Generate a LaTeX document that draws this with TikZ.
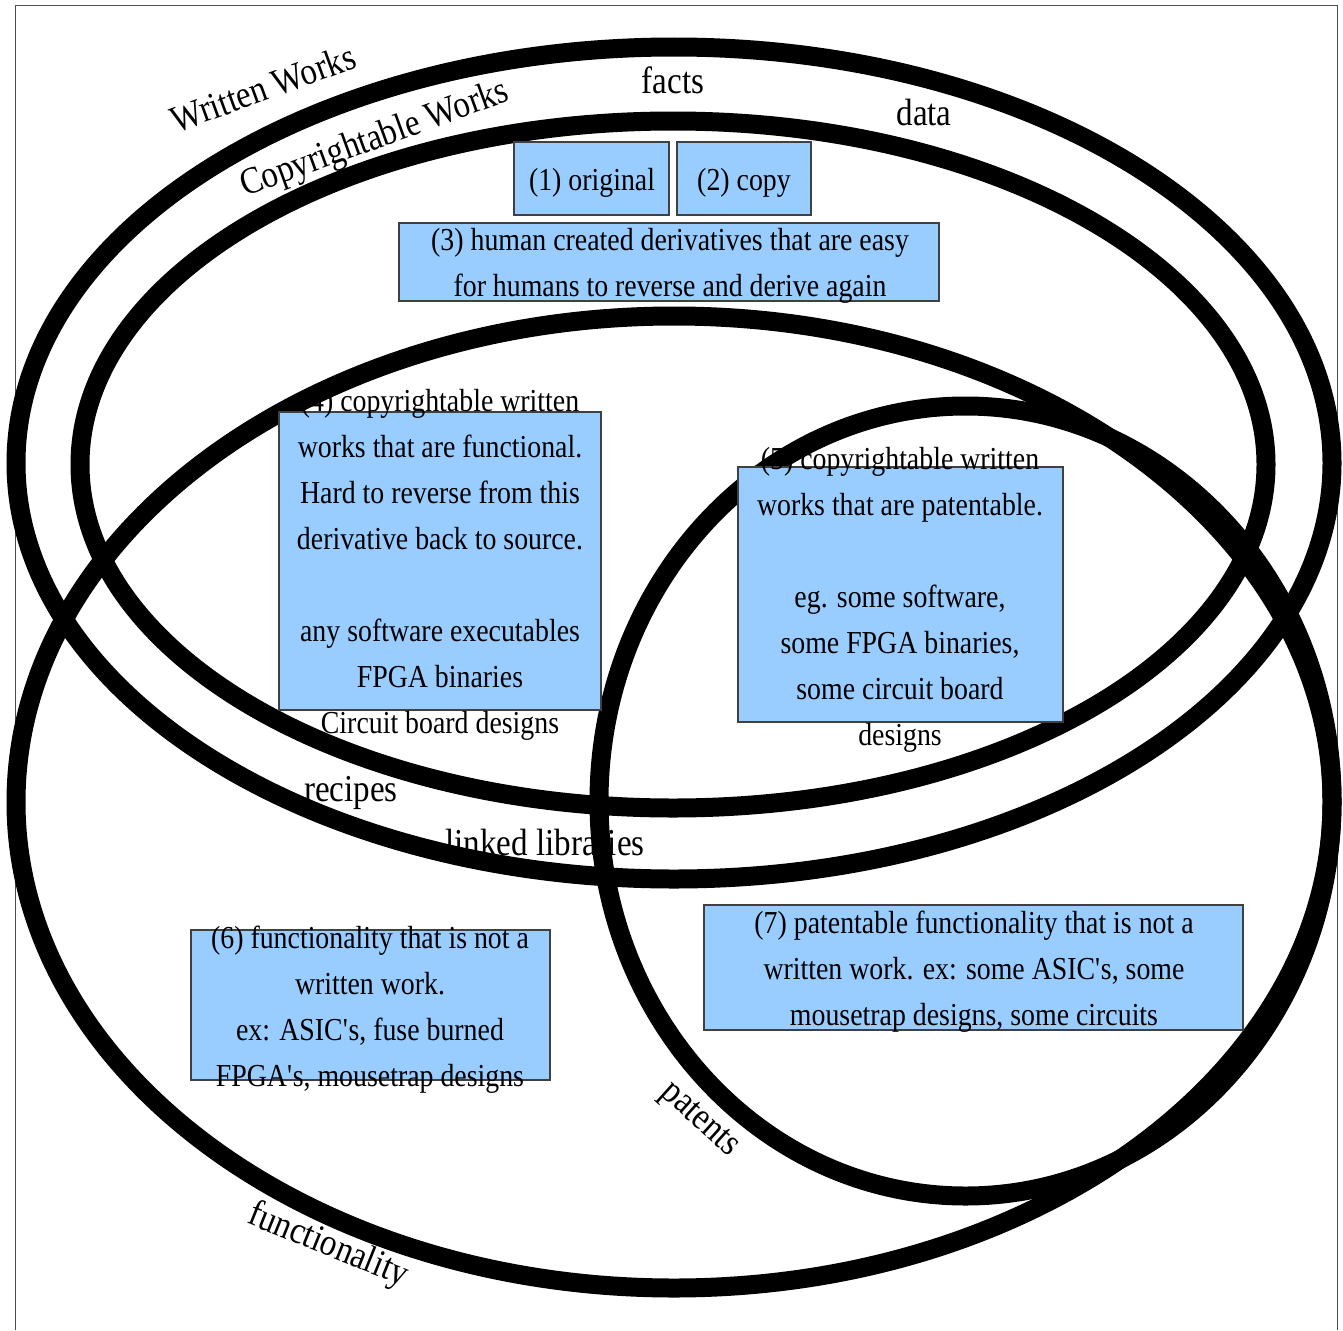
\documentclass[tikz,border=0pt]{standalone}
\usepackage{fontspec}
\setmainfont{Liberation Serif}[FakeStretch=0.87]
\definecolor{boxblue}{RGB}{153,204,255}
\newcommand{\apos}{\textquotesingle}
\begin{document}
\begin{tikzpicture}[x=1pt,y=-1pt,
  ring/.style={line width=19pt, draw=black},
  panel/.style={draw=black!75, line width=1.2pt, fill=boxblue, inner sep=0pt},
  paneltext/.style={align=center, font=\fontsize{32}{46}\selectfont, inner sep=0pt},
  tag/.style={font=\fontsize{38}{44}\selectfont, inner sep=0pt}]
\useasboundingbox (0,0) rectangle (1343,1330);

% page frame
\draw[black!70, line width=1pt] (15,1330) -- (15,6) -- (1337,6) -- (1337,1330);

% the four sets
\draw[ring] (674,463) ellipse [x radius=658pt, y radius=416pt];     % written works
\draw[ring] (673,464.5) ellipse [x radius=593pt, y radius=343.5pt]; % copyrightable works
\draw[ring] (674,802) ellipse [x radius=658pt, y radius=486pt];     % functionality
\draw[ring] (965.5,801) ellipse [x radius=366.5pt, y radius=395pt]; % patents

% category boxes
\node[panel, minimum width=155pt, minimum height=73pt] (orig) at (591.5,178.5) {};
\node[panel, minimum width=134pt, minimum height=73pt] (copy) at (744,178.5) {};
\node[panel, minimum width=540pt, minimum height=78pt] (deriv) at (669,262) {};
\node[panel, minimum width=322pt, minimum height=298pt] (func) at (440,561) {};
\node[panel, minimum width=325pt, minimum height=255pt] (patw) at (900.5,594.5) {};
\node[panel, minimum width=359pt, minimum height=150pt] (nonw) at (370.5,1005) {};
\node[panel, minimum width=539pt, minimum height=125pt] (patf) at (973.5,967.5) {};

% box texts
\node[paneltext] (origtxt) at (592,183) {(1) original};
\node[paneltext] (copytxt) at (744,183) {(2) copy};
\node[paneltext] (derivtxt) at (670,266) {(3) human created derivatives that are easy\\for humans to reverse and derive again};
\node[paneltext] (functxt) at (440,565) {(4) copyrightable written\\works that are functional.\\Hard to reverse from this\\derivative back to source.\\[46pt]any software executables\\FPGA binaries\\Circuit board designs};
\node[paneltext] (patwtxt) at (900,599.5) {(5) copyrightable written\\works that are patentable.\\[46pt]eg. some software,\\some FPGA binaries,\\some circuit board\\designs};
\node[paneltext] (nonwtxt) at (370,1009.5) {(6) functionality that is not a\\written work.\\ex: ASIC\apos s, fuse burned\\FPGA\apos s, mousetrap designs};
\node[paneltext] (patftxt) at (974,971.5) {(7) patentable functionality that is not a\\written work. ex: some ASIC\apos s, some\\mousetrap designs, some circuits};

% set names and loose examples
\node[tag] (facts) at (673,80) {facts};
\node[tag] (data) at (924,113) {data};
\node[tag, rotate=20] (written) at (263,88) {Written Works};
\node[tag, rotate=20] (copyright) at (375,140) {Copyrightable Works};
\node[tag] (recipes) at (351,793) {recipes};
\node[tag] (linked) at (545,842) {linked libraries};
\node[tag, rotate=-42] (patents) at (699,1121) {patents};
\node[tag, rotate=-22] (functionality) at (328,1246) {functionality};
\end{tikzpicture}
\end{document}
